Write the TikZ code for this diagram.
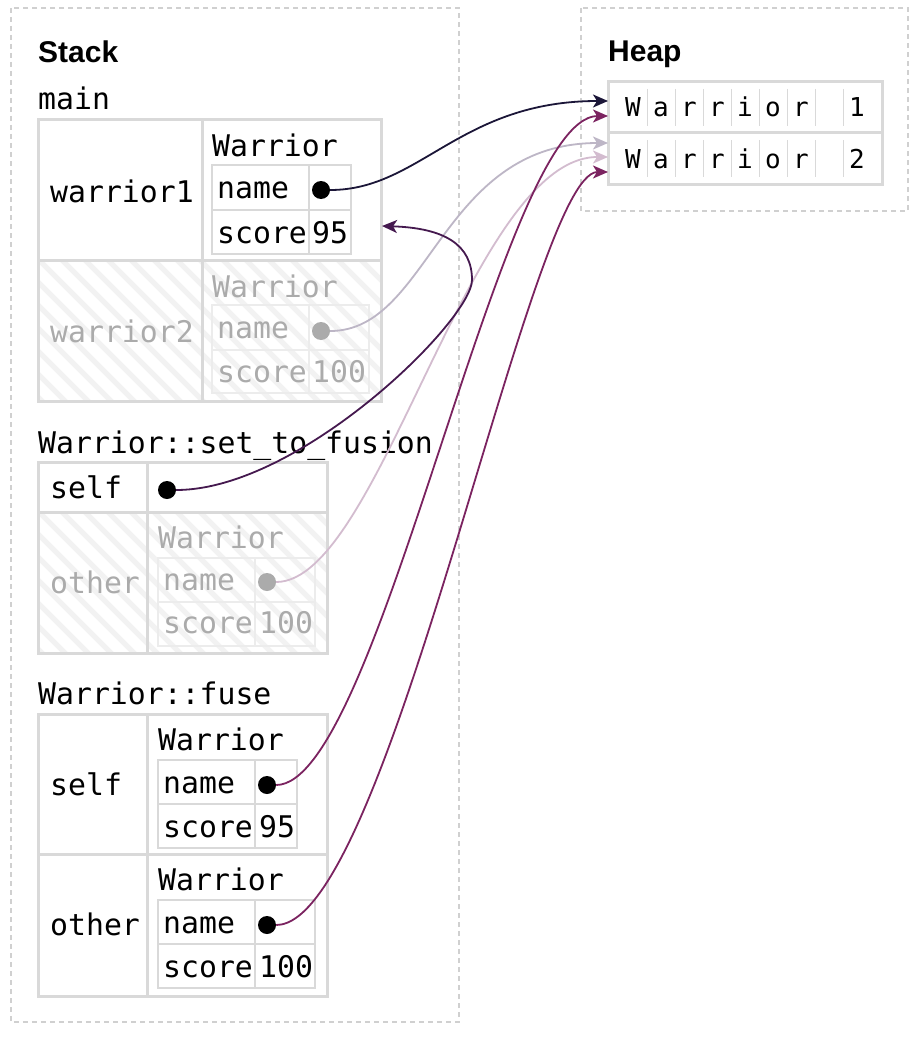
\documentclass[tikz,border=0pt]{standalone}
\usepackage{fontspec}
\setmonofont{DejaVu Sans Mono}
\setsansfont{Liberation Sans}
\usetikzlibrary{arrows.meta}
\definecolor{bordergray}{HTML}{D9D9D9}
\definecolor{faintgray}{HTML}{ECECEC}
\definecolor{hatchgray}{HTML}{F2F2F2}
\definecolor{fadetext}{HTML}{ABABAB}
\definecolor{dashgray}{HTML}{D0D0D0}
\definecolor{cnavy}{HTML}{1B1638}
\definecolor{cplum}{HTML}{45194F}
\definecolor{cmag}{HTML}{7B2360}
\definecolor{cgrayp}{HTML}{BDB6C6}
\definecolor{cpink}{HTML}{D3BCCF}
\newcommand\mtxt{\ttfamily\fontsize{29.8}{34}\selectfont}
\newcommand\htxt{\ttfamily\fontsize{26}{30}\selectfont}
\newcommand\ttltxt{\sffamily\bfseries\fontsize{30}{36}\selectfont}
\tikzset{
  lbl/.style={anchor=base west, inner sep=0pt, font=\mtxt},
  faded/.style={text=fadetext},
  ttl/.style={anchor=base west, inner sep=0pt, font=\ttltxt},
  hch/.style={anchor=base, inner sep=0pt, font=\htxt},
  dotb/.style={circle, fill=black, inner sep=0pt, minimum size=18pt},
  dotg/.style={circle, fill=fadetext, inner sep=0pt, minimum size=18pt},
  outerb/.style={draw=bordergray, line width=3pt},
  innerb/.style={draw=bordergray, line width=1.5pt},
  faintb/.style={draw=faintgray, line width=1.5pt},
  hatchline/.style={draw=hatchgray, line width=5pt},
  region/.style={draw=dashgray, line width=1.2pt, dash pattern=on 5pt off 4pt},
  cellsep/.style={draw=bordergray, line width=1pt},
  ptr/.style={line width=1.8pt, -{Stealth[length=15pt, width=13pt, inset=4pt]}},
}
\newcommand\hatchrect[4]{%
  \begin{scope}
    \clip (#1,#2) rectangle (#3,#4);
    \foreach \k in {0,...,30} \draw[hatchline] ({#1-160+23*\k},#2) -- ++(200,200);
  \end{scope}}
\begin{document}
\begin{tikzpicture}[x=1pt,y=-1pt]
\fill[white] (0,0) rectangle (922,1038);
\useasboundingbox (0,0) rectangle (922,1038);

% regions
\draw[region] (11,8) rectangle (459,1022);
\draw[region] (581,8) rectangle (908,211);
\node[ttl] (stack) at (38,63) {Stack};
\node[ttl] (heap) at (608,62) {Heap};

% ---- main frame ----
\node[lbl] (fmain) at (38,110) {main};
\hatchrect{38}{260}{381}{401}
\draw[outerb] (38,120) rectangle (381,401);
\draw[outerb] (202,120) -- (202,401);
\draw[outerb] (38,260) -- (381,260);
\node[lbl] (w1) at (50,202) {warrior1};
\node[lbl] (w1t) at (212,157) {Warrior};
\draw[innerb] (212,165) rectangle (351,254);
\draw[innerb] (212,210) -- (351,210);
\draw[innerb] (309,165) -- (309,254);
\node[lbl] (w1n) at (217,198) {name};
\node[lbl] (w1s) at (217,243) {score};
\node[lbl] (w1v) at (312,243) {95};
\node[dotb] (d1) at (321,190) {};

\node[lbl,faded] (w2) at (50,342) {warrior2};
\node[lbl,faded] (w2t) at (212,297) {Warrior};
\draw[faintb] (212,305) rectangle (369,393);
\draw[faintb] (212,350) -- (369,350);
\draw[faintb] (309,305) -- (309,393);
\node[lbl,faded] (w2n) at (217,338) {name};
\node[lbl,faded] (w2s) at (217,382) {score};
\node[lbl,faded] (w2v) at (312,382) {100};
\node[dotg] (d2) at (321,331) {};

% ---- set_to_fusion frame ----
\node[lbl] (fset) at (38,453) {Warrior::set\_to\_fusion};
\hatchrect{38}{512}{327}{653}
\draw[outerb] (38,462) rectangle (327,653);
\draw[outerb] (147,462) -- (147,653);
\draw[outerb] (38,512) -- (327,512);
\node[lbl] (sself) at (50,498) {self};
\node[dotb] (d4) at (167,490) {};
\node[lbl,faded] (sother) at (50,593) {other};
\node[lbl,faded] (sot) at (158,548) {Warrior};
\draw[faintb] (158,558) rectangle (315,646);
\draw[faintb] (158,602) -- (315,602);
\draw[faintb] (255,558) -- (255,646);
\node[lbl,faded] (son) at (163,590) {name};
\node[lbl,faded] (sos) at (163,633) {score};
\node[lbl,faded] (sov) at (259,633) {100};
\node[dotg] (d5) at (267,582) {};

% ---- fuse frame ----
\node[lbl] (ffuse) at (38,704) {Warrior::fuse};
\draw[outerb] (38,714) rectangle (327,996);
\draw[outerb] (147,714) -- (147,996);
\draw[outerb] (38,854) -- (327,854);
\node[lbl] (fself) at (50,795) {self};
\node[lbl] (fst) at (158,750) {Warrior};
\draw[innerb] (158,760) rectangle (297,848);
\draw[innerb] (158,804) -- (297,804);
\draw[innerb] (255,760) -- (255,848);
\node[lbl] (fsn) at (163,793) {name};
\node[lbl] (fss) at (163,837) {score};
\node[lbl] (fsv) at (259,837) {95};
\node[dotb] (d6) at (267,785) {};

\node[lbl] (fother) at (50,935) {other};
\node[lbl] (fot) at (158,890) {Warrior};
\draw[innerb] (158,900) rectangle (315,988);
\draw[innerb] (158,944) -- (315,944);
\draw[innerb] (255,900) -- (255,988);
\node[lbl] (fon) at (163,933) {name};
\node[lbl] (fos) at (163,977) {score};
\node[lbl] (fov) at (259,977) {100};
\node[dotb] (d7) at (267,925) {};

% ---- heap ----
\draw[outerb] (608,82) rectangle (882,184);
\draw[outerb] (608,133) -- (882,133);
\foreach \k in {0,...,7} {
  \draw[cellsep] ({647+28*\k},89) -- ({647+28*\k},126);
  \draw[cellsep] ({647+28*\k},140) -- ({647+28*\k},177);
}
\foreach \c [count=\i from 0] in {W,a,r,r,i,o,r,{},1} {
  \node[hch] (ha\i) at ({633+28*\i},117) {\c};
}
\foreach \c [count=\i from 0] in {W,a,r,r,i,o,r,{},2} {
  \node[hch] (hb\i) at ({633+28*\i},168) {\c};
}

% arrow targets
\coordinate (h1a) at (608,101);
\coordinate (h1b) at (608,116);
\coordinate (h2a) at (608,143);
\coordinate (h2b) at (608,157);
\coordinate (h2c) at (608,172);
\coordinate (t2) at (382,226);
\coordinate (bend) at (472,280);

% ---- pointers ----
\draw[ptr, cgrayp] (d2) .. controls (430,331) and (440,143) .. (h2a);
\draw[ptr, cpink] (d5) .. controls (380,582) and (470,157) .. (h2b);
\draw[ptr, cnavy] (d1) .. controls (420,190) and (460,101) .. (h1a);
\draw[ptr, cplum] (d4) .. controls (300,490) and (472,320) .. (bend) .. controls (472,245) and (445,228) .. (t2);
\draw[ptr, cmag] (d6) .. controls (380,785) and (500,116) .. (h1b);
\draw[ptr, cmag] (d7) .. controls (390,925) and (530,172) .. (h2c);
\end{tikzpicture}
\end{document}
